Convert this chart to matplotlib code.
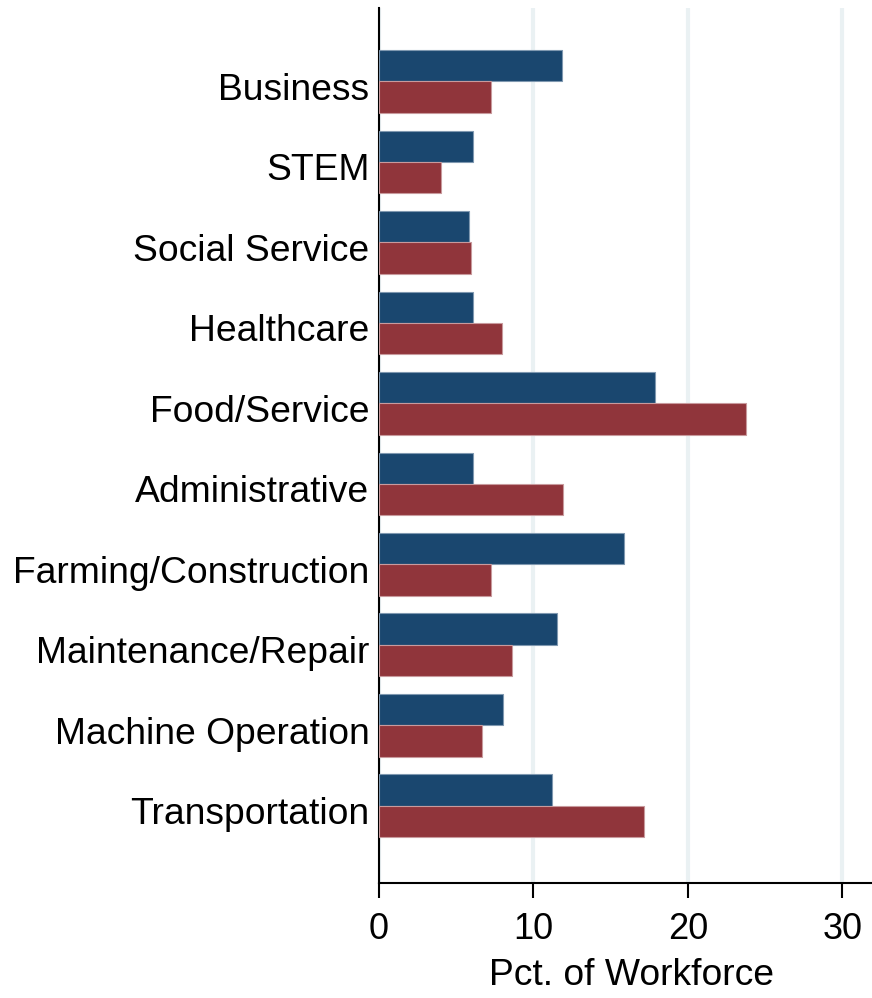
import numpy as np
import matplotlib.pyplot as plt
import matplotlib.transforms as mtransforms

plt.rcParams['font.family'] = ['Liberation Sans', 'DejaVu Sans']

categories = ['Business', 'STEM', 'Social Service', 'Healthcare', 'Food/Service',
              'Administrative', 'Farming/Construction', 'Maintenance/Repair',
              'Machine Operation', 'Transportation']
blue_vals = [11.85, 6.1, 5.8, 6.1, 17.9, 6.1, 15.85, 11.5, 8.0, 11.2]
red_vals = [7.25, 4.0, 5.95, 7.95, 23.75, 11.9, 7.25, 8.6, 6.65, 17.15]

y = np.arange(len(categories))
h = 0.391

fig = plt.figure(figsize=(8.72, 9.98), dpi=100)
ax = fig.add_axes([379/872, 115/998, 493/872, 875/998])

ax.barh(y - h/2, blue_vals, height=h, color='#1a476f', edgecolor='#7f98b0', linewidth=0.8, zorder=3)
ax.barh(y + h/2, red_vals, height=h, color='#90353b', edgecolor='#c89a9d', linewidth=0.8, zorder=3)

ax.set_xlim(0, 31.93)
ax.set_ylim(9 + 0.957, -0.913)
ax.set_xticks([0, 10, 20, 30])
ax.set_yticks(y)
ax.set_yticklabels(categories)
ax.tick_params(axis='y', length=0, pad=7, labelsize=26.8)
ax.tick_params(axis='x', length=11, width=1.5, pad=10, labelsize=26)
ax.xaxis.grid(True, color='#eaf1f3', linewidth=3, zorder=0)
ax.set_axisbelow(True)

# nudge category labels down a little
offset = mtransforms.ScaledTranslation(0, -5/100, fig.dpi_scale_trans)
for lab in ax.get_yticklabels():
    lab.set_transform(lab.get_transform() + offset)

for s in ['top', 'right']:
    ax.spines[s].set_visible(False)
for s in ['left', 'bottom']:
    ax.spines[s].set_linewidth(1.5)

ax.set_xlabel('Pct. of Workforce', fontsize=26.8, labelpad=8)
ax.xaxis.label.set_x(0.513)

fig.savefig('out.png', dpi=100)
